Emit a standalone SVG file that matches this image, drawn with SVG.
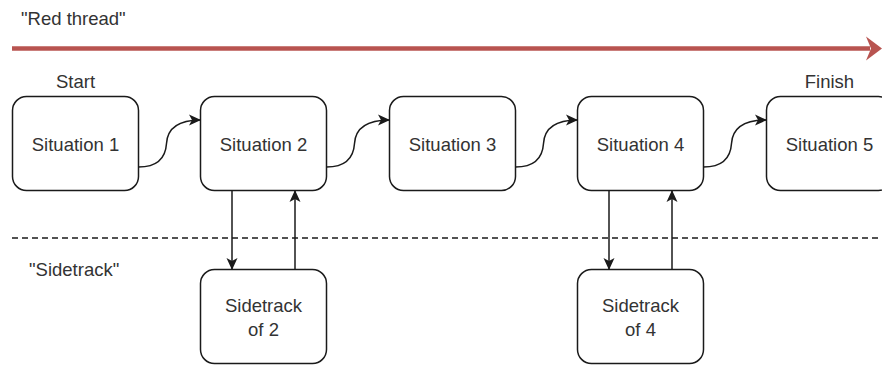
<svg xmlns="http://www.w3.org/2000/svg" width="882" height="365" viewBox="0 0 882 365">
  <defs>
    <style>
      .box { fill: #ffffff; stroke: #1a1a1a; stroke-width: 1.5; }
      .lbl { font-family: "Liberation Sans", Arial, sans-serif; font-size: 18.5px; fill: #333333; }
      .mid { text-anchor: middle; }
      .edge { fill: none; stroke: #1a1a1a; stroke-width: 1.5; }
    </style>
    <marker id="arrow" viewBox="0 0 12 12" refX="11.5" refY="6" markerWidth="12" markerHeight="12" markerUnits="userSpaceOnUse" orient="auto">
      <path d="M0,0.5 L12,6 L0,11.5 L3,6 Z" fill="#1a1a1a"/>
    </marker>
  </defs>
  <rect width="882" height="365" fill="#ffffff"/>

  <!-- track labels and guide lines -->
  <g id="red-thread">
    <text class="lbl" x="21" y="25">"Red thread"</text>
    <line x1="12" y1="48.5" x2="870" y2="48.5" stroke="#b85450" stroke-width="4.5"/>
    <path d="M866,36.5 L882,48.5 L866,60.5 L871,48.5 Z" fill="#b85450"/>
  </g>
  <g id="sidetrack-divider">
    <line x1="12" y1="238" x2="882" y2="238" stroke="#1a1a1a" stroke-width="1.3" stroke-dasharray="6 4"/>
    <text class="lbl" x="29" y="276">"Sidetrack"</text>
  </g>

  <!-- main situations -->
  <g id="situation-1">
    <text class="lbl mid" x="75.5" y="88">Start</text>
    <rect class="box" x="12.5" y="96.5" width="126" height="94" rx="14"/>
    <text class="lbl mid" x="75.5" y="151">Situation 1</text>
  </g>
  <g id="situation-2">
    <rect class="box" x="200.5" y="96.5" width="126" height="94" rx="14"/>
    <text class="lbl mid" x="263.5" y="151">Situation 2</text>
  </g>
  <g id="situation-3">
    <rect class="box" x="389.5" y="96.5" width="126" height="94" rx="14"/>
    <text class="lbl mid" x="452.5" y="151">Situation 3</text>
  </g>
  <g id="situation-4">
    <rect class="box" x="577.5" y="96.5" width="126" height="94" rx="14"/>
    <text class="lbl mid" x="640.5" y="151">Situation 4</text>
  </g>
  <g id="situation-5">
    <text class="lbl mid" x="829.5" y="88">Finish</text>
    <rect class="box" x="766.5" y="96.5" width="126" height="94" rx="14"/>
    <text class="lbl mid" x="829.5" y="151">Situation 5</text>
  </g>

  <!-- sidetracks -->
  <g id="sidetrack-2">
    <rect class="box" x="200.5" y="269.5" width="126" height="94" rx="14"/>
    <text class="lbl mid" x="263.5" y="312">Sidetrack</text>
    <text class="lbl mid" x="263.5" y="336">of 2</text>
  </g>
  <g id="sidetrack-4">
    <rect class="box" x="577.5" y="269.5" width="126" height="94" rx="14"/>
    <text class="lbl mid" x="640.5" y="312">Sidetrack</text>
    <text class="lbl mid" x="640.5" y="336">of 4</text>
  </g>

  <!-- connectors -->
  <g id="connectors">
    <path class="edge" marker-end="url(#arrow)" d="M138.5,167 Q165,167 166.5,143.5 Q168,120 200.5,120"/>
    <path class="edge" marker-end="url(#arrow)" d="M326.5,167 Q353,167 354.5,143.5 Q356,120 389.5,120"/>
    <path class="edge" marker-end="url(#arrow)" d="M515.5,167 Q542,167 543.5,143.5 Q545,120 577.5,120"/>
    <path class="edge" marker-end="url(#arrow)" d="M703.5,167 Q730,167 731.5,143.5 Q733,120 766.5,120"/>
    <line class="edge" marker-end="url(#arrow)" x1="232" y1="190.5" x2="232" y2="269.5"/>
    <line class="edge" marker-end="url(#arrow)" x1="295" y1="269.5" x2="295" y2="190.5"/>
    <line class="edge" marker-end="url(#arrow)" x1="609" y1="190.5" x2="609" y2="269.5"/>
    <line class="edge" marker-end="url(#arrow)" x1="672" y1="269.5" x2="672" y2="190.5"/>
  </g>
</svg>
